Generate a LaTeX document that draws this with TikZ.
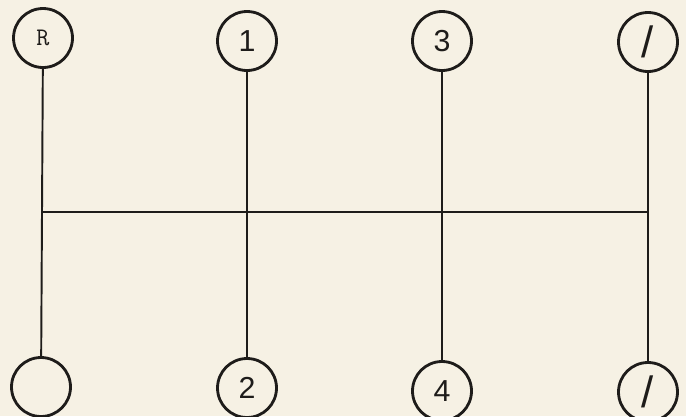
\documentclass[tikz,border=0pt]{standalone}
\usepackage{fontspec}
\setsansfont{Liberation Sans}
\usepackage{tikz}
\usetikzlibrary{positioning}
\definecolor{paper}{RGB}{246,241,228}
\definecolor{ink}{RGB}{30,28,26}
\tikzset{
  gear/.style={draw=ink, circle, line width=1.6pt, minimum size=1.18cm, inner sep=0pt, font=\sffamily\LARGE, text=ink},
  rod/.style={draw=ink, line width=1.1pt},
  blank/.style={gear, font=\sffamily\Huge}
}
\begin{document}
\begin{tikzpicture}[x=0.02cm, y=-0.02cm]
  \fill[paper] (0,0) rectangle (686,416);
  \useasboundingbox (0,0) rectangle (686,416);
  % top row
  \node[gear, font=\ttfamily\Large] (rev) at (43,38) {R};
  \node[gear] (g1) at (247,41) {1};
  \node[gear] (g3) at (442,41) {3};
  \node[blank] (sl1) at (648,42) {/};
  % bottom row
  \node[gear] (nul) at (41,387) {};
  \node[gear] (g2) at (247,388) {2};
  \node[gear] (g4) at (442,391) {4};
  \node[blank] (sl2) at (648,392) {/};
  % rods
  \draw[rod] (rev) -- (nul);
  \draw[rod] (g1) -- (g2);
  \draw[rod] (g3) -- (g4);
  \draw[rod] (sl1) -- (sl2);
  \coordinate (hl) at (42,212);
  \coordinate (hr) at (648,212);
  \draw[rod] (hl) -- (hr);
\end{tikzpicture}
\end{document}
